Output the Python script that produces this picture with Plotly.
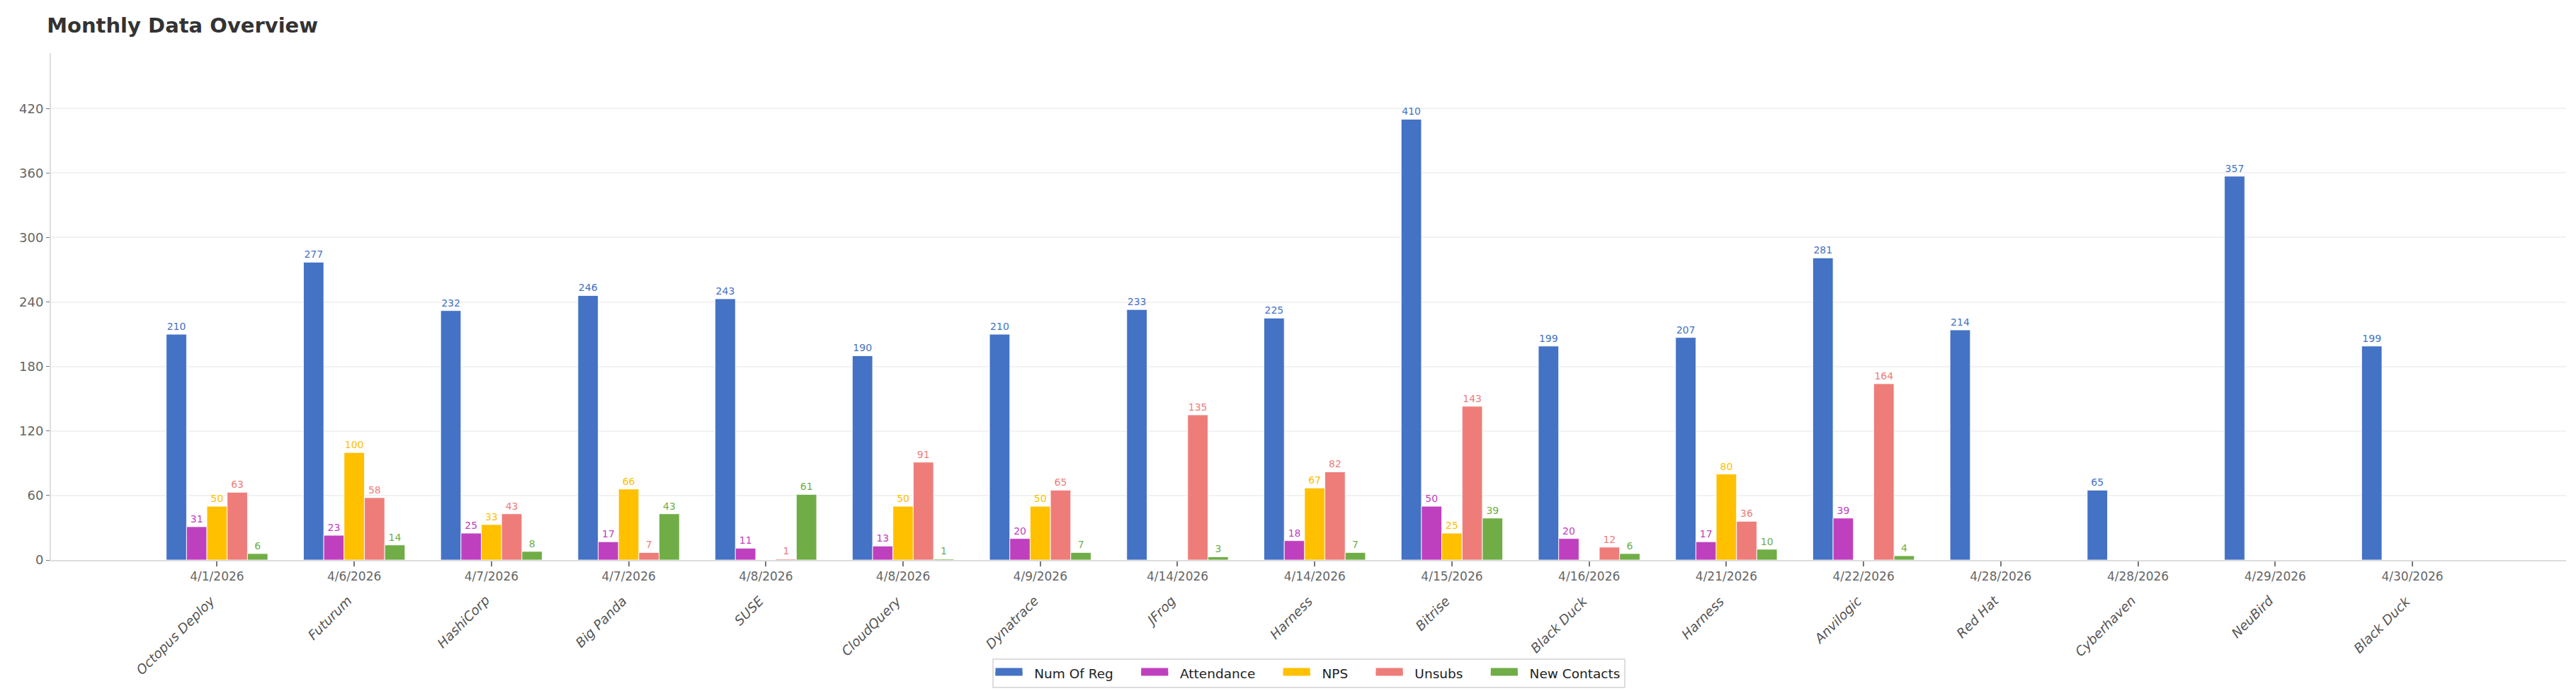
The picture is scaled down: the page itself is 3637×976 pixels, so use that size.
import plotly.graph_objects as go

# Events in the order shown on the chart
companies = ['Octopus Deploy', 'Futurum', 'HashiCorp', 'Big Panda', 'SUSE', 'CloudQuery',
             'Dynatrace', 'JFrog', 'Harness', 'Bitrise', 'Black Duck', 'Harness',
             'Anvilogic', 'Red Hat', 'Cyberhaven', 'NeuBird', 'Black Duck']
dates = ['4/1/2026', '4/6/2026', '4/7/2026', '4/7/2026', '4/8/2026', '4/8/2026',
         '4/9/2026', '4/14/2026', '4/14/2026', '4/15/2026', '4/16/2026', '4/21/2026',
         '4/22/2026', '4/28/2026', '4/28/2026', '4/29/2026', '4/30/2026']

num_of_reg = [210, 277, 232, 246, 243, 190, 210, 233, 225, 410, 199, 207, 281, 214, 65, 357, 199]
attendance = [31, 23, 25, 17, 11, 13, 20, None, 18, 50, 20, 17, 39, None, None, None, None]
nps = [50, 100, 33, 66, None, 50, 50, None, 67, 25, None, 80, None, None, None, None, None]
unsubs = [63, 58, 43, 7, 1, 91, 65, 135, 82, 143, 12, 36, 164, None, None, None, None]
new_contacts = [6, 14, 8, 43, 61, 1, 7, 3, 7, 39, 6, 10, 4, None, None, None, None]

series = [
    ('Num Of Reg', num_of_reg, '#4472C4'),
    ('Attendance', attendance, '#BF40BF'),
    ('NPS', nps, '#FFC000'),
    ('Unsubs', unsubs, '#EE7D7A'),
    ('New Contacts', new_contacts, '#70AD47'),
]

FONT = 'DejaVu Sans'
NB = '\u00a0'
xpos = list(range(len(companies)))

fig = go.Figure()
for k, (name, vals, color) in enumerate(series):
    fig.add_trace(go.Bar(
        x=xpos, y=vals, name=name, legendgroup=name, showlegend=False,
        marker=dict(color=color, line=dict(color='rgba(255,255,255,0.85)', width=1)),
        text=[v if v else '' for v in vals],
        textposition='outside',
        textfont=dict(color=color, size=14, family=FONT),
        cliponaxis=False,
    ))
    # wide swatch for the legend (line + fill gives a thick rectangle)
    tail = NB * 5 if k < len(series) - 1 else ''
    fig.add_trace(go.Scatter(
        x=[None], y=[None], mode='lines', legendgroup=name,
        name=NB * 2 + name + tail,
        line=dict(color=color, width=10),
        fill='toself', fillcolor=color,
        hoverinfo='skip',
    ))

# company names under the date ticks, tilted
for i, c in enumerate(companies):
    fig.add_annotation(
        x=i, y=0, xref='x', yref='y',
        text='<i>' + c + '</i>', showarrow=False,
        textangle=-45, xanchor='right', yanchor='top',
        yshift=-44, xshift=4,
        font=dict(family=FONT, size=18.5, color='#555555'),
    )

fig.update_layout(
    width=3637, height=976,
    margin=dict(l=64, r=22, t=67, b=188),
    title=dict(text='<b>Monthly Data Overview</b>', x=0.016, xref='container',
               y=0.971, yanchor='middle', yref='container',
               font=dict(family=FONT, size=29, color='#333333')),
    barmode='group', bargap=0.26, bargroupgap=0,
    plot_bgcolor='white', paper_bgcolor='white',
    font=dict(family=FONT, color='#666666'),
    xaxis=dict(
        tickmode='array', tickvals=xpos, ticktext=dates,
        range=[-1.21, 17.12],
        showline=True, linecolor='#dddddd', linewidth=2,
        ticks='outside', ticklen=7, tickcolor='#777777', tickwidth=1.5,
        tickfont=dict(size=17, color='#666666'),
        showgrid=False, zeroline=False,
    ),
    yaxis=dict(
        range=[0, 471.5], dtick=60, tick0=0,
        showline=True, linecolor='#dddddd', linewidth=2,
        ticks='outside', ticklen=5, tickcolor='#777777',
        tickfont=dict(size=18, color='#666666'),
        gridcolor='#f2f2f2', gridwidth=1.5, zeroline=False,
    ),
    legend=dict(
        orientation='h', x=0.5, xanchor='center', y=-0.194, yanchor='top',
        bordercolor='#dddddd', borderwidth=2, bgcolor='white',
        itemwidth=38,
        font=dict(family=FONT, size=18.5, color='#222222'),
    ),
)

fig.write_html('out.html')
